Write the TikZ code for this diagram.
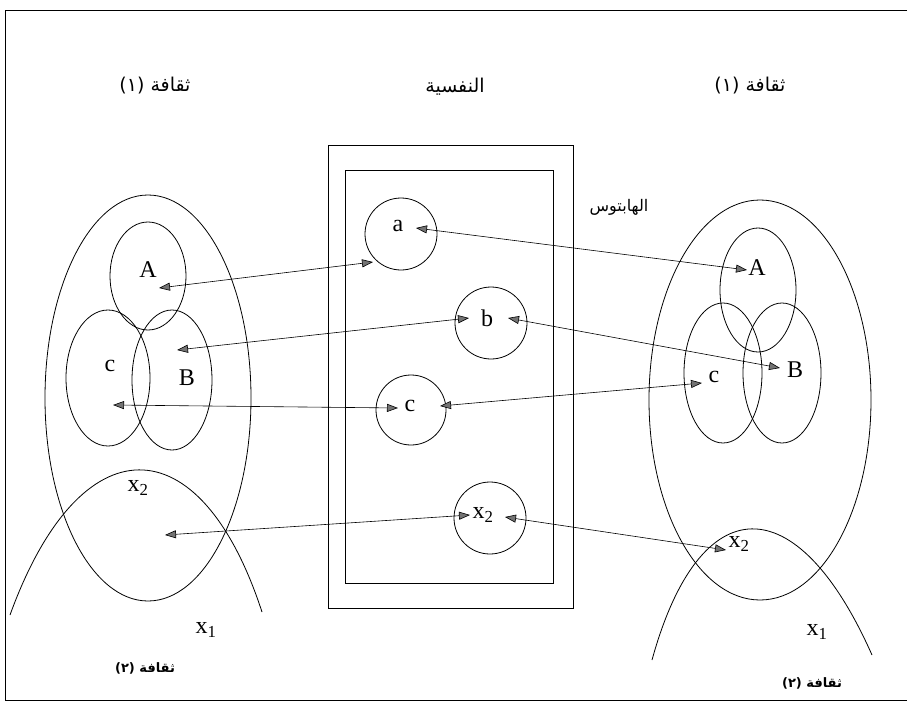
\documentclass[tikz,border=0pt]{standalone}
\usepackage{fontspec}
\setmainfont{Liberation Serif}
\newfontfamily\arabicfont[Script=Arabic]{DejaVu Sans}
\TeXXeTstate=1
\usetikzlibrary{arrows.meta,positioning,shapes.geometric}

\begin{document}
\begin{tikzpicture}[
  x=1pt, y=-1pt,
  >={Triangle[length=11pt,width=8pt,fill=black!55]},
  set/.style    = {draw, ellipse, line width=0.8pt, inner sep=0pt},
  core/.style   = {draw, circle, line width=0.8pt, minimum size=72pt, inner sep=0pt},
  box/.style    = {draw, rectangle, line width=0.8pt, inner sep=0pt},
  letter/.style = {font=\fontsize{24}{26}\selectfont, inner sep=1pt},
  title/.style  = {font=\arabicfont\fontsize{19}{22}\selectfont, inner sep=0pt},
  small/.style  = {font=\arabicfont\bfseries\fontsize{13}{15}\selectfont, inner sep=0pt},
  link/.style   = {<->, line width=0.6pt}
]
\useasboundingbox (0,0) rectangle (908,704);

% Frame
\draw[line width=0.8pt] (907,10) -- (5,10) -- (5,700) -- (907,700);

% Titles
\node[title] (cult1l) at (155,86)  {\beginR ثقافة (١)\endR};
\node[title] (psyt)   at (455,87)  {\beginR النفسية\endR};
\node[title] (cult1r) at (750,86)  {\beginR ثقافة (١)\endR};
\node[title, font=\arabicfont\fontsize{16}{18}\selectfont] (habt) at (619,207) {\beginR الهابتوس\endR};

% Left culture
\node[set, minimum width=206pt, minimum height=406pt] (lout) at (148,398) {};
\node[set, minimum width=76pt,  minimum height=108pt] (lAset) at (148,276) {};
\node[set, minimum width=84pt,  minimum height=136pt] (lcset) at (108,378) {};
\node[set, minimum width=80pt,  minimum height=140pt] (lBset) at (172,380) {};
\draw[line width=0.8pt] (10,615) .. controls (80,422) and (200,422) .. (262,612);
\node[letter] (lA)  at (148,270) {A};
\node[letter] (lc)  at (110,366) {c};
\node[letter] (lB)  at (187,378) {B};
\node[letter] (lx2) at (138,488) {x\textsubscript{2}};
\node[letter] (lx1) at (206,630) {x\textsubscript{1}};
\node[small]  (cult2l) at (145,668) {\beginR ثقافة (٢)\endR};

% Psyche and habitus
\node[box, minimum width=245pt, minimum height=463pt] (psyche)  at (450.5,376.5) {};
\node[box, minimum width=208pt, minimum height=413pt] (habitus) at (449,376.5) {};
\node[core] (ca) at (401,234) {};
\node[core] (cb) at (491,323) {};
\node[core, minimum size=70pt] (cc) at (411,410) {};
\node[core] (cx) at (490,518) {};
\node[letter] (ta)  at (398,226) {a};
\node[letter] (tb)  at (487,318) {b};
\node[letter] (tc)  at (410,406) {c};
\node[letter] (tx2) at (483,515) {x\textsubscript{2}};

% Right culture
\node[set, minimum width=222pt, minimum height=400pt] (rout) at (760,400) {};
\node[set, minimum width=76pt,  minimum height=124pt] (rAset) at (758,290) {};
\node[set, minimum width=78pt,  minimum height=140pt] (rcset) at (723,373) {};
\node[set, minimum width=78pt,  minimum height=140pt] (rBset) at (782,373) {};
\draw[line width=0.8pt] (652,660) .. controls (700,486) and (797,486) .. (872,655);
\node[letter] (rA)  at (757,268) {A};
\node[letter] (rB)  at (795,370) {B};
\node[letter] (rc)  at (714,377) {c};
\node[letter] (rx2) at (739,544) {x\textsubscript{2}};
\node[letter] (rx1) at (817,632) {x\textsubscript{1}};
\node[small]  (cult2r) at (812,683) {\beginR ثقافة (٢)\endR};

% Arrow ends
\coordinate (lA-end)  at (159,288);
\coordinate (ca-end)  at (373,262);
\coordinate (ta-end)  at (416,228);
\coordinate (rA-end)  at (747,270);
\coordinate (lB-end)  at (177,350);
\coordinate (tb-end)  at (469,318);
\coordinate (tb2-end) at (508,318);
\coordinate (rB-end)  at (780,368);
\coordinate (lc-end)  at (113,405);
\coordinate (tc-end)  at (398,408);
\coordinate (tc2-end) at (440,406);
\coordinate (rc-end)  at (702,383);
\coordinate (lx-end)  at (165,535);
\coordinate (tx-end)  at (470,515);
\coordinate (tx2-end) at (505,517);
\coordinate (rx-end)  at (726,550);

% Connections
\draw[link] (lA-end) -- (ca-end);
\draw[link] (ta-end) -- (rA-end);
\draw[link] (lB-end) -- (tb-end);
\draw[link] (tb2-end) -- (rB-end);
\draw[link] (lc-end) -- (tc-end);
\draw[link] (tc2-end) -- (rc-end);
\draw[link] (lx-end) -- (tx-end);
\draw[link] (tx2-end) -- (rx-end);

\end{tikzpicture}
\end{document}
